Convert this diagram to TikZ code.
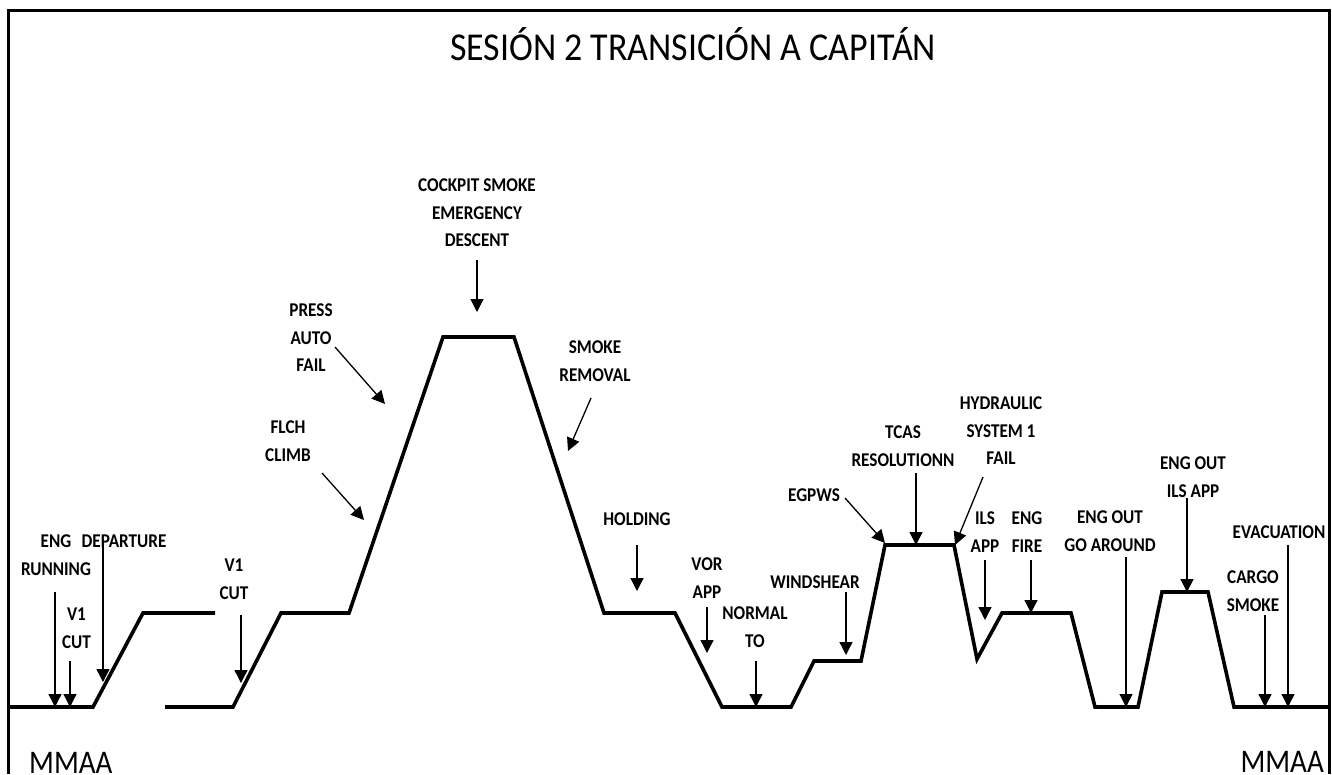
\documentclass[tikz,border=0pt]{standalone}
\usepackage{fontspec}
\setmainfont{Carlito}
\newfontfamily\lblfont[FakeStretch=0.88]{Carlito}
\newfontfamily\ttlfont[FakeStretch=0.91]{Carlito}
\usetikzlibrary{arrows.meta}
\begin{document}
\begin{tikzpicture}[x=1pt,y=-1pt,
  prof/.style={line width=3.6pt},
  pointer/.style={line width=1.3pt,-{Triangle[width=13pt,length=13pt]}},
  lbl/.style={font=\lblfont\bfseries\fontsize{19.5}{27.5}\selectfont,align=center,inner sep=0pt,anchor=north},
  bigtxt/.style={font=\lblfont\fontsize{33}{36}\selectfont,inner sep=0pt,anchor=base}]
\useasboundingbox (0,0) rectangle (1332,774);
\fill[white] (0,0) rectangle (1332,774);
% frame
\coordinate (fbl) at (8.5,774);
\coordinate (ftl) at (8.5,10.5);
\coordinate (ftr) at (1329.5,10.5);
\coordinate (fbr) at (1329.5,774);
\draw[line width=3pt] (fbl) -- (ftl) -- (ftr) -- (fbr);
% title
\node[font=\ttlfont\fontsize{39.5}{42}\selectfont,inner sep=0pt,anchor=base] (title) at (693,60) {SESIÓN 2 TRANSICIÓN A CAPITÁN};
\node[bigtxt,anchor=base west] (mmaaL) at (29,773) {MMAA};
\node[bigtxt,anchor=base east] (mmaaR) at (1324,772) {MMAA};
% profile vertices
\coordinate (p0) at (10,707);
\coordinate (p1) at (93,707);
\coordinate (p2) at (143,613);
\coordinate (p3) at (215,613);
\coordinate (q0) at (165,707);
\coordinate (q1) at (233,707);
\coordinate (q2) at (281,613);
\coordinate (q3) at (349,613);
\coordinate (q4) at (443,337);
\coordinate (q5) at (514,337);
\coordinate (q6) at (604,613);
\coordinate (q7) at (675,613);
\coordinate (q8) at (722,707);
\coordinate (q9) at (791,707);
\coordinate (q10) at (814,661);
\coordinate (q11) at (861,661);
\coordinate (q12) at (885,545);
\coordinate (q13) at (954,545);
\coordinate (q14) at (977,659);
\coordinate (q15) at (1002,613);
\coordinate (q16) at (1071,613);
\coordinate (q17) at (1095,707);
\coordinate (q18) at (1138,707);
\coordinate (q19) at (1162,592);
\coordinate (q20) at (1208,592);
\coordinate (q21) at (1234,707);
\coordinate (q22) at (1330,707);
\draw[prof] (p0) -- (p1) -- (p2) -- (p3);
\draw[prof] (q0) -- (q1) -- (q2) -- (q3) -- (q4) -- (q5) -- (q6) -- (q7) -- (q8) -- (q9) -- (q10) -- (q11) -- (q12) -- (q13) -- (q14) -- (q15) -- (q16) -- (q17) -- (q18) -- (q19) -- (q20) -- (q21) -- (q22);
% labels
\node[lbl] (engrun) at (56,534.8) {ENG\\RUNNING};
\node[lbl] (v1a) at (76.5,607.8) {V1\\CUT};
\node[lbl] (dep) at (124,534.8) {DEPARTURE};
\node[lbl] (v1b) at (234,558.8) {V1\\CUT};
\node[lbl] (flch) at (288,420.8) {FLCH\\CLIMB};
\node[lbl] (press) at (311,303.8) {PRESS\\AUTO\\FAIL};
\node[lbl] (cockpit) at (477,178.8) {COCKPIT SMOKE\\EMERGENCY\\DESCENT};
\node[lbl] (smoke) at (595,340.8) {SMOKE\\REMOVAL};
\node[lbl] (hold) at (637,512.8) {HOLDING};
\node[lbl] (vor) at (707,557.8) {VOR\\APP};
\node[lbl] (normal) at (755,606.8) {NORMAL\\TO};
\node[lbl] (wind) at (815,575.8) {WINDSHEAR};
\node[lbl] (egpws) at (814,488.8) {EGPWS};
\node[lbl] (tcas) at (903,425.8) {TCAS\\RESOLUTIONN};
\node[lbl] (hyd) at (1001,396.8) {HYDRAULIC\\SYSTEM 1\\FAIL};
\node[lbl] (ils) at (985,511.8) {ILS\\APP};
\node[lbl] (fire) at (1027,511.8) {ENG\\FIRE};
\node[lbl] (goar) at (1110,510.8) {ENG OUT\\GO AROUND};
\node[lbl] (engils) at (1193,456.8) {ENG OUT\\ILS APP};
\node[lbl] (evac) at (1279,525.8) {EVACUATION};
\node[lbl] (cargo) at (1253,570.8) {CARGO\\SMOKE};
% arrow ends
\coordinate (a1s) at (55,592);   \coordinate (a1t) at (55,707);
\coordinate (a2s) at (70,661);   \coordinate (a2t) at (70,707);
\coordinate (a3s) at (103,543);  \coordinate (a3t) at (103,682);
\coordinate (a4s) at (241,615);  \coordinate (a4t) at (241,683);
\coordinate (a5s) at (322,473);  \coordinate (a5t) at (364,520);
\coordinate (a6s) at (335,347);  \coordinate (a6t) at (385,404);
\coordinate (a7s) at (477,260);  \coordinate (a7t) at (477,312);
\coordinate (a8s) at (591,398);  \coordinate (a8t) at (568,451);
\coordinate (a9s) at (637,545);  \coordinate (a9t) at (637,591);
\coordinate (a10s) at (707,607); \coordinate (a10t) at (707,653);
\coordinate (a11s) at (756,661); \coordinate (a11t) at (756,707);
\coordinate (a12s) at (846,592); \coordinate (a12t) at (846,655);
\coordinate (a13s) at (845,498); \coordinate (a13t) at (885,543);
\coordinate (a14s) at (916,473); \coordinate (a14t) at (916,545);
\coordinate (a15s) at (983,477); \coordinate (a15t) at (955,545);
\coordinate (a16s) at (985,560); \coordinate (a16t) at (985,620);
\coordinate (a17s) at (1031,560); \coordinate (a17t) at (1031,613);
\coordinate (a18s) at (1126,557); \coordinate (a18t) at (1126,707);
\coordinate (a19s) at (1187,498); \coordinate (a19t) at (1187,592);
\coordinate (a20s) at (1265,615); \coordinate (a20t) at (1265,707);
\coordinate (a21s) at (1288,545); \coordinate (a21t) at (1288,707);
\foreach \i in {1,...,21} {\draw[pointer] (a\i s) -- (a\i t);}
\end{tikzpicture}
\end{document}
